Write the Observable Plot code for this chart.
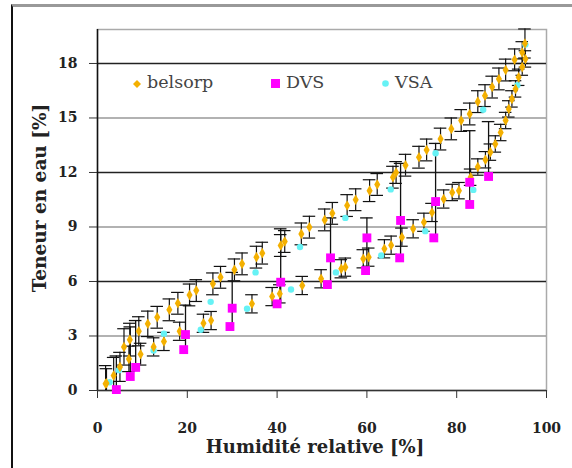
<!DOCTYPE html>
<html>
<head>
<meta charset="utf-8">
<script src="https://cdn.jsdelivr.net/npm/d3@7"></script>
<script src="https://cdn.jsdelivr.net/npm/@observablehq/plot@0.6"></script>
<style>
  html, body { margin: 0; padding: 0; background: #fff; }
  #wrap { position: relative; width: 572px; height: 468px; overflow: hidden; }
  #frame { position: absolute; left: 11px; top: 4px; width: 600px; height: 600px;
           border-left: 2px solid #111; border-top: 3px solid #999; box-sizing: border-box; }
  #chart { position: absolute; left: 0; top: 0; }
  .leg { position: absolute; top: 72px; font-family: "DejaVu Serif", serif; font-size: 17.5px; color: #444; white-space: nowrap; }
  .leg svg { vertical-align: middle; margin-right: 6px; }
</style>
</head>
<body>
<div id="wrap">
  <div id="frame"></div>
  <div id="chart"></div>
</div>
<script>
// ---- data ----
const rhTicks = [0, 20, 40, 60, 80, 100];
const wTicks = [0, 3, 6, 9, 12, 15, 18];

// belsorp, desorption branch
const belDesRH = [1.8, 3.6, 5.9, 7.2, 9.2, 11.2, 13.3, 16.0, 17.9, 20.5, 22.0, 25.7, 27.4, 30.5, 32.2, 35.4, 36.7, 40.8, 41.7, 45.4, 47.2, 50.6, 52.3, 55.6, 57.5, 60.6, 62.3, 65.8, 66.5, 68.6, 71.6, 73.3, 76.4, 78.8, 81.0, 82.9, 84.7, 86.3, 87.9, 89.4, 90.9, 92.9, 94.6, 95.2];
const belDesW  = [0.37, 0.82, 2.40, 2.80, 3.26, 3.67, 4.03, 4.44, 4.80, 5.26, 5.50, 5.87, 6.23, 6.64, 6.97, 7.34, 7.56, 7.98, 8.20, 8.62, 8.99, 9.39, 9.75, 10.18, 10.50, 11.00, 11.34, 11.74, 12.00, 12.40, 12.84, 13.24, 13.84, 14.40, 14.86, 15.22, 15.90, 16.23, 16.70, 17.15, 17.64, 18.20, 18.60, 19.10];
const belDesErr = [1.0, 1.0, 1.0, 0.9, 0.8, 0.7, 0.6, 0.6, 0.6, 0.6, 0.6, 0.6, 0.6, 0.6, 0.6, 0.6, 0.6, 0.6, 0.6, 0.6, 0.6, 0.6, 0.6, 0.6, 0.6, 0.6, 0.6, 0.6, 0.6, 0.6, 0.6, 0.6, 0.6, 0.6, 0.6, 0.6, 0.6, 0.6, 0.6, 0.6, 0.6, 0.6, 0.6, 0.8];

// belsorp, adsorption branch
const belAdsRH = [2.0, 5.0, 7.0, 9.6, 12.5, 14.8, 18.3, 23.6, 25.3, 34.4, 38.9, 40.6, 45.6, 49.8, 54.3, 55.2, 59.2, 60.4, 63.9, 65.4, 67.8, 70.3, 72.7, 74.5, 77.1, 79.0, 80.5, 83.1, 84.7, 86.4, 87.5, 88.6, 89.8, 90.9, 91.6, 92.3, 93.1, 93.8, 94.6, 95.3];
const belAdsW  = [0.40, 1.30, 1.74, 2.00, 2.40, 2.70, 3.26, 3.70, 3.85, 4.77, 5.17, 5.32, 5.78, 6.15, 6.70, 6.79, 7.25, 7.34, 7.80, 8.00, 8.44, 8.90, 9.26, 9.80, 10.54, 10.90, 11.00, 11.74, 12.30, 12.70, 13.12, 13.57, 14.20, 14.86, 15.50, 16.05, 16.60, 17.24, 17.80, 18.25];
const belAdsErr = [0.8, 0.8, 0.7, 0.6, 0.5, 0.5, 0.5, 0.5, 0.5, 0.5, 0.5, 0.5, 0.5, 0.5, 0.5, 0.5, 0.5, 0.5, 0.5, 0.5, 0.5, 0.5, 0.5, 0.5, 0.5, 0.45, 0.45, 0.45, 0.45, 0.45, 0.45, 0.45, 0.45, 0.45, 0.45, 0.45, 0.45, 0.45, 0.45, 0.45];

// DVS
const dvsRH = [4.2, 7.3, 8.5, 19.2, 19.6, 29.5, 30.0, 40.0, 40.8, 51.2, 51.9, 59.7, 60.0, 67.3, 67.5, 74.9, 75.3, 82.9, 82.9, 87.1];
const dvsW  = [0.05, 0.77, 1.27, 2.25, 3.08, 3.52, 4.53, 4.77, 5.96, 5.83, 7.30, 6.60, 8.40, 7.30, 9.36, 8.40, 10.40, 10.24, 11.46, 11.78];
const dvsLo = [0.05, 0.77, 1.27, 2.25, 2.25, 3.52, 3.52, 4.77, 4.77, 5.83, 5.83, 6.60, 6.60, 7.30, 7.30, 8.40, 8.40, 10.24, 10.24, 11.78];
const dvsHi = [1.90, 3.50, 3.85, 2.25, 4.70, 3.52, 6.50, 4.77, 8.90, 5.83, 9.50, 6.60, 9.50, 7.30, 12.50, 8.40, 13.60, 10.24, 14.30, 14.80];

// VSA
const vsaRH = [2.7, 4.75, 12.5, 14.8, 23.0, 25.2, 33.3, 35.2, 43.1, 45.1, 53.1, 55.2, 63.2, 65.3, 73.0, 75.3, 83.7, 85.9, 93.5, 95.3];
const vsaW  = [0.45, 1.12, 2.20, 3.12, 3.34, 4.88, 4.50, 6.50, 5.56, 7.90, 6.50, 9.50, 7.43, 11.07, 8.77, 13.06, 11.04, 15.45, 16.80, 19.04];

// ---- tables ----
const bel = [
  ...belDesRH.map((x, i) => ({x, y: belDesW[i], lo: belDesW[i] - belDesErr[i], hi: belDesW[i] + belDesErr[i]})),
  ...belAdsRH.map((x, i) => ({x, y: belAdsW[i], lo: belAdsW[i] - belAdsErr[i], hi: belAdsW[i] + belAdsErr[i]}))
];
const belLoCaps = bel.filter(d => d.lo >= 0);
const dvs = dvsRH.map((x, i) => ({x, y: dvsW[i], lo: dvsLo[i], hi: dvsHi[i]}));
const dvsBars = dvs.filter(d => d.hi > d.lo);
const vsa = vsaRH.map((x, i) => ({x, y: vsaW[i]}));

const cap = 1.4;
const yMax = 19.87;

const chart = Plot.plot({
  width: 572, height: 468,
  marginLeft: 97, marginRight: 26, marginTop: 29, marginBottom: 78,
  style: {fontFamily: "DejaVu Serif, serif", fontSize: "14px", fontWeight: "bold", color: "#222", background: "transparent"},
  x: {domain: [0, 100], ticks: rhTicks, label: null},
  y: {domain: [0, yMax], ticks: wTicks, label: null},
  marks: [
    Plot.frame({stroke: "#aaa", strokeWidth: 1.5}),
    Plot.ruleY(wTicks.slice(1), {stroke: d => (d % 6 === 0 ? "#222" : "#999"), strokeWidth: 1.6}),
    Plot.axisX({ticks: rhTicks, tickSize: 8, tickPadding: 25, stroke: "#333"}),
    Plot.axisY({ticks: wTicks, tickSize: 8, tickPadding: 12, stroke: "#333"}),
    Plot.ruleX([0], {stroke: "#111", strokeWidth: 1.5}),
    Plot.ruleY([0], {stroke: "#333", strokeWidth: 1.5}),
    // error bars
    Plot.ruleX(bel, {x: "x", y1: d => Math.max(0, d.lo), y2: "hi", stroke: "#111", strokeWidth: 1.2}),
    Plot.ruleY(belLoCaps, {y: "lo", x1: d => d.x - cap, x2: d => d.x + cap, stroke: "#111", strokeWidth: 1.2}),
    Plot.ruleY(bel, {y: "hi", x1: d => d.x - cap, x2: d => d.x + cap, stroke: "#111", strokeWidth: 1.2}),
    Plot.ruleX(dvsBars, {x: "x", y1: "lo", y2: "hi", stroke: "#111", strokeWidth: 1.3}),
    Plot.ruleY(dvsBars, {y: "hi", x1: d => d.x - cap, x2: d => d.x + cap, stroke: "#111", strokeWidth: 1.3}),
    // points
    Plot.dot(vsa, {x: "x", y: "y", r: 3.2, fill: "#66f2f5", stroke: "none"}),
    Plot.dot(bel, {x: "x", y: "y", symbol: "diamond", r: 3.2, fill: "#f4b000", stroke: "none"}),
    Plot.dot(dvs, {x: "x", y: "y", symbol: "square", r: 5, fill: "#ff00ff", stroke: "none"}),
    // axis titles
    Plot.text(["Humidité relative [%]"], {frameAnchor: "bottom", dx: -7, dy: 62, fontSize: 18, fontWeight: "bold", fill: "#222"}),
    Plot.text(["Teneur en eau [%]"], {frameAnchor: "left", textAnchor: "middle", dx: -57, dy: -12, rotate: -90, fontSize: 18.5, fontWeight: "bold", fill: "#222"})
  ]
});
document.getElementById("chart").append(chart);

// legend
const legendItems = ["belsorp", "DVS", "VSA"];
const legendLeft = [133, 271, 382];
const legendMark = [
  '<svg width="8" height="8"><path d="M4 0L8 4L4 8L0 4Z" fill="#f4b000"/></svg>',
  '<svg width="9" height="9"><rect width="9" height="9" fill="#ff00ff"/></svg>',
  '<svg width="7" height="7"><circle cx="3.5" cy="3.5" r="3.3" fill="#66f2f5"/></svg>'
];
const wrap = document.getElementById("wrap");
legendItems.forEach((t, i) => {
  const s = document.createElement("div");
  s.className = "leg";
  s.style.left = legendLeft[i] + "px";
  s.innerHTML = legendMark[i] + t;
  wrap.append(s);
});
</script>
</body>
</html>
